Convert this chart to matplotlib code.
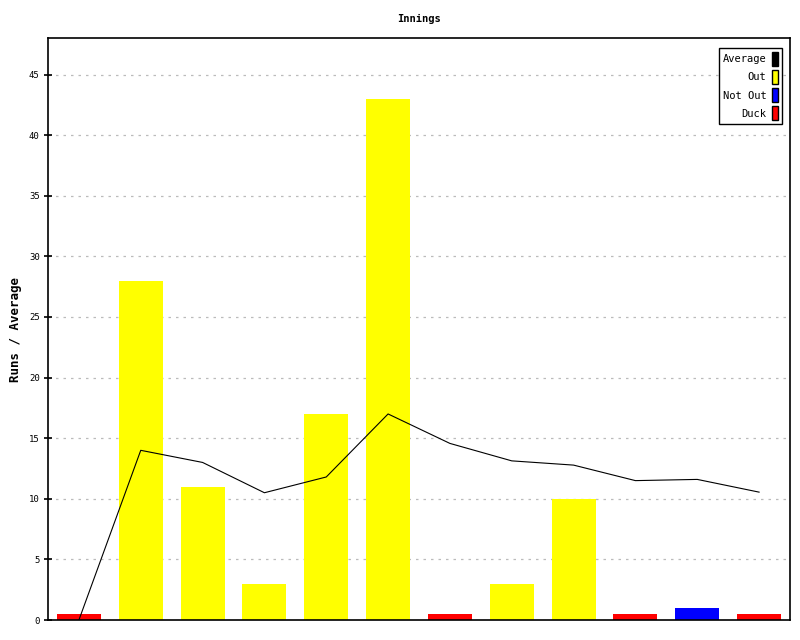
import matplotlib
matplotlib.use("Agg")
import matplotlib.pyplot as plt
from matplotlib.patches import Patch

# innings data
innings = list(range(1, 13))
runs = [0.5, 28, 11, 3, 17, 43, 0.5, 3, 10, 0.5, 1, 0.5]
kind = ["Duck", "Out", "Out", "Out", "Out", "Out", "Duck", "Out", "Out", "Duck", "Not Out", "Duck"]
average = [0, 14, 13, 10.5, 11.8, 17, 14.57, 13.13, 12.78, 11.5, 11.6, 10.55]
yticks = [0, 5, 10, 15, 20, 25, 30, 35, 40, 45]

colors = {"Out": "#ffff00", "Not Out": "#0000ff", "Duck": "#ff0000"}

plt.rcParams["font.family"] = "DejaVu Sans Mono"

fig = plt.figure(figsize=(8, 6.4), dpi=100)
ax = fig.add_axes([0.06, 0.03125, 0.9275, 0.909])

x = list(range(len(innings)))
ax.bar(x, runs, width=0.71, color=[colors[k] for k in kind], zorder=2)
ax.plot(x, average, color="black", linewidth=0.8, zorder=3)

ax.set_xlim(-0.5, 11.5)
ax.set_ylim(0, 48)
ax.set_xticks([])
ax.set_yticks(yticks)
ax.set_yticklabels([str(t) for t in yticks], fontsize=6.5)
ax.tick_params(axis="y", direction="inout", length=6, width=1.2, pad=3)
ax.grid(axis="y", color="#bbbbbb", linestyle=(0, (2, 4)), linewidth=0.9, zorder=0)
for s in ax.spines.values():
    s.set_linewidth(1.2)

ax.set_title("Innings", fontsize=7.5, fontweight="bold", pad=12)
ax.set_ylabel("Runs / Average", fontsize=9, fontweight="bold", labelpad=5)

handles = [Patch(facecolor="black", edgecolor="black", label="Average"),
           Patch(facecolor=colors["Out"], edgecolor="black", label="Out"),
           Patch(facecolor=colors["Not Out"], edgecolor="black", label="Not Out"),
           Patch(facecolor=colors["Duck"], edgecolor="black", label="Duck")]
leg = ax.legend(handles=handles, loc="upper right", markerfirst=False, fontsize=7.5,
                handlelength=0.6, handleheight=1.6, handletextpad=0.5,
                labelspacing=0.45, borderpad=0.4, fancybox=False,
                framealpha=1, edgecolor="black", bbox_to_anchor=(0.9965, 0.992))
leg.get_frame().set_linewidth(1)
for t in leg.get_texts():
    t.set_ha("right")

fig.savefig("out.png", dpi=100)
